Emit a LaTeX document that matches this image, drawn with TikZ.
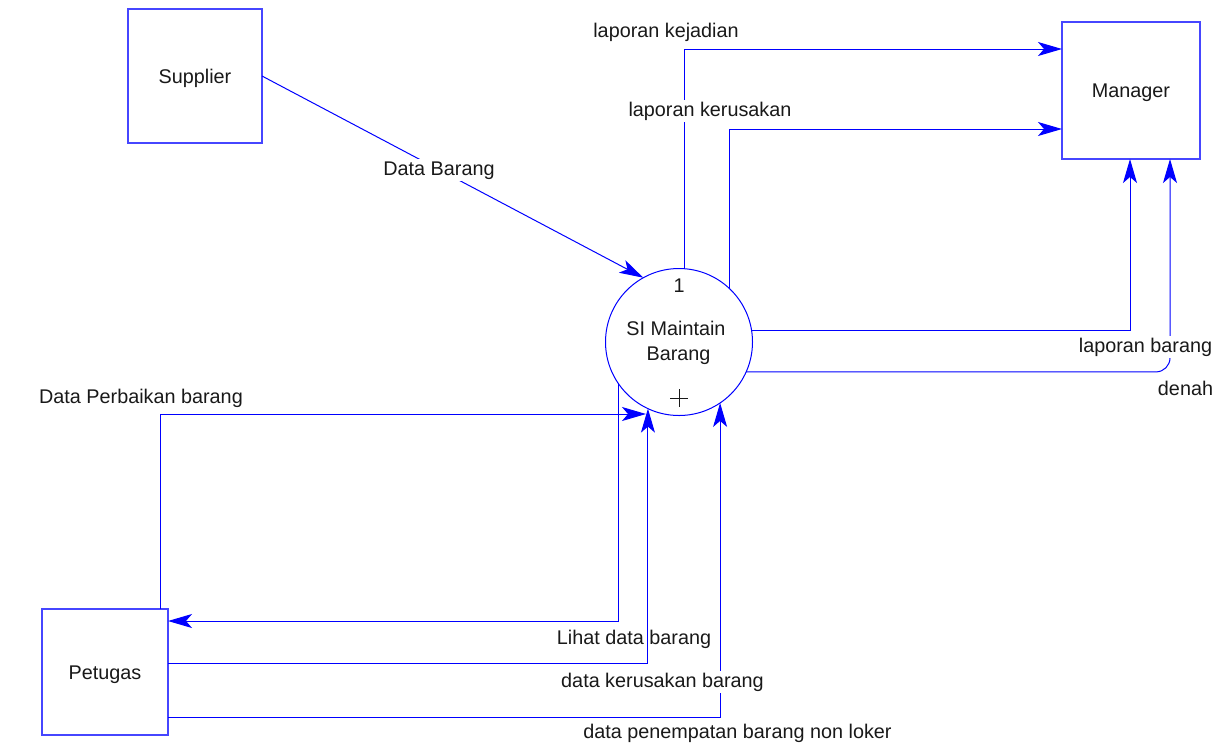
\documentclass[tikz,border=0pt]{standalone}
\usepackage{fontspec}
\setmainfont{Liberation Sans}
\usetikzlibrary{arrows.meta,calc}

\definecolor{flowblue}{RGB}{0,0,255}
\definecolor{edgeblue}{RGB}{70,70,255}
\definecolor{inkgray}{RGB}{25,25,25}

\tikzset{
  entity/.style={draw=edgeblue, line width=0.75pt, fill=white, inner sep=0pt, outer sep=0pt,
    text=inkgray, text height=7.1pt, text depth=0pt},
  process/.style={circle, draw=flowblue, line width=0.5pt, inner sep=0pt, outer sep=0pt,
    minimum size=73.5pt},
  flow/.style={draw=flowblue, line width=0.5pt,
    -{Stealth[length=12pt, width=7pt, inset=3pt]}},
  lbl/.style={anchor=base, text=inkgray, inner sep=1pt},
  lblbg/.style={lbl, fill=white},
}

\begin{document}
\begin{tikzpicture}[x=0.5pt, y=-0.5pt, font=\fontsize{9.9pt}{12pt}\selectfont]
\useasboundingbox (0,0) rectangle (1232,746);

% external entities and the process
\node[entity, minimum width=67pt, minimum height=67pt] (sup) at (195,76) {Supplier};
\node[entity, minimum width=69pt, minimum height=68.5pt] (mgr) at (1131,90.5) {Manager};
\node[entity, minimum width=63pt, minimum height=63pt] (pet) at (105,672) {Petugas};
\node[process] (proc) at (679,342) {};

\node[lbl] (procnum) at (679,292.7) {1};
\node[lbl] (procname1) at (676,335) {SI Maintain};
\node[lbl] (procname2) at (678.5,360.7) {Barang};
\draw[inkgray, line width=0.5pt] ($(proc.center)+(-9,56)$) -- ($(proc.center)+(9,56)$)
  ($(proc.center)+(0,47)$) -- ($(proc.center)+(0,65)$);

% free end of the repair-data flow, just below the circle
\coordinate (perbIn) at ($(proc.center)+(-33,72)$);

% data flows
\draw[flow] (sup.east) -- (proc.119);
\draw[flow] (proc.86.9) |- ($(mgr.north west)+(0,27)$);
\draw[flow] (proc.47.1) |- ($(mgr.north west)+(0,107)$);
\draw[flow] (proc.9.4) -| ($(mgr.south west)+(68,0)$);
\draw[flow, rounded corners=7pt] (proc.-24.1) -| ($(mgr.south west)+(108,0)$);
\draw[flow] ($(pet.north west)+(118,0)$) |- (perbIn);
\draw[flow] (proc.215.25) |- ($(pet.north east)+(0,12)$);
\node[lbl] (lLihat) at (634,644) {Lihat data barang};
\draw[flow] ($(pet.north east)+(0,54)$) -| (proc.245);
\draw[flow] ($(pet.north east)+(0,108)$) -| (proc.304.9);

% flow labels
\node[lblbg] (lDataBarang) at (439,175) {Data Barang};
\node[lbl] (lKejadian) at (666,37.7) {laporan kejadian};
\node[lblbg] (lKerusakan) at (710,116) {laporan kerusakan};
\node[lblbg] (lLapBarang) at (1145.5,352) {laporan barang};
\node[lbl] (lDenah) at (1185.5,395) {denah};
\node[lbl] (lPerbaikan) at (141,403) {Data Perbaikan barang};
\node[lblbg] (lDataKerusakan) at (662.5,687) {data kerusakan barang};
\node[lbl] (lPenempatan) at (737.5,738) {data penempatan barang non loker};
\end{tikzpicture}
\end{document}
